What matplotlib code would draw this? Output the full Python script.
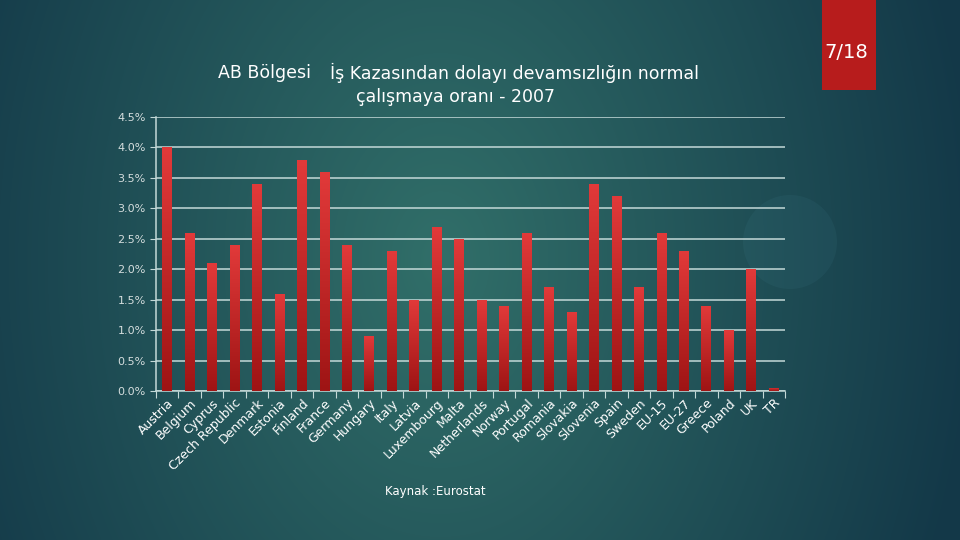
import matplotlib.pyplot as plt
import numpy as np
from matplotlib.patches import Rectangle, Circle
from matplotlib.colors import LinearSegmentedColormap

countries = ['Austria', 'Belgium', 'Cyprus', 'Czech Republic', 'Denmark', 'Estonia',
             'Finland', 'France', 'Germany', 'Hungary', 'Italy', 'Latvia',
             'Luxembourg', 'Malta', 'Netherlands', 'Norway', 'Portugal', 'Romania',
             'Slovakia', 'Slovenia', 'Spain', 'Sweden', 'EU-15', 'EU-27',
             'Greece', 'Poland', 'UK', 'TR']
rates = [4.0, 2.6, 2.1, 2.4, 3.4, 1.6, 3.8, 3.6, 2.4, 0.9, 2.3, 1.5,
         2.7, 2.5, 1.5, 1.4, 2.6, 1.7, 1.3, 3.4, 3.2, 1.7, 2.6, 2.3,
         1.4, 1.0, 2.0, 0.05]
yticks = [0.0, 0.5, 1.0, 1.5, 2.0, 2.5, 3.0, 3.5, 4.0, 4.5]

plt.rcParams['font.family'] = ['DejaVu Sans']

fig = plt.figure(figsize=(9.6, 5.4), dpi=100)

# background: soft teal gradient, darker towards the side edges
bg = fig.add_axes([0, 0, 1, 1])
yy, xx = np.mgrid[0:540, 0:960]
d = np.sqrt(((xx - 440) / 540.0) ** 2 + ((yy - 260) / 760.0) ** 2)
d = np.clip(d, 0, 1)
c_in = np.array([0x31, 0x6f, 0x69]) / 255.0
c_out = np.array([0x13, 0x38, 0x48]) / 255.0
img = c_in[None, None, :] * (1 - d[..., None]) + c_out[None, None, :] * d[..., None]
bg.imshow(img, extent=[0, 960, 540, 0], aspect='auto')
bg.set_xlim(0, 960)
bg.set_ylim(540, 0)
bg.axis('off')
bg.add_patch(Circle((790, 242), 47, color='#5aa0b0', alpha=0.08, lw=0))
bg.add_patch(Rectangle((822, 0), 54, 90, color='#b71c1c', lw=0))
bg.text(824, 52, '7/18', color='white', fontsize=14, ha='left', va='center')
bg.text(218, 73, 'AB Bölgesi', color='white', fontsize=12.5, ha='left', va='center')
bg.text(330, 73, 'İş Kazasından dolayı devamsızlığın normal', color='white',
        fontsize=12.5, ha='left', va='center')
bg.text(455, 97, 'çalışmaya oranı - 2007', color='white', fontsize=12.5,
        ha='center', va='center')
bg.text(435, 492, 'Kaynak :Eurostat', color='white', fontsize=8.5,
        ha='center', va='center')

ax = fig.add_axes([156 / 960, 1 - 391 / 540, (785 - 156) / 960, (391 - 117) / 540])
ax.patch.set_alpha(0)
x = np.arange(len(countries))
bars = ax.bar(x, rates, width=0.44, color='#c62828', zorder=3)

# vertical red gradient inside each bar
grad = np.linspace(0, 1, 256).reshape(-1, 1)
cmap = LinearSegmentedColormap.from_list('redg', ['#9e1414', '#e23a3a'])
for b in bars:
    x0, w, h = b.get_x(), b.get_width(), b.get_height()
    im = ax.imshow(grad, extent=[x0, x0 + w, 0, h], origin='lower', cmap=cmap,
                   aspect='auto', zorder=4)
    im.set_clip_path(b)

ax.set_xlim(-0.5, len(countries) - 0.5)
ax.set_ylim(0, 4.5)
ax.set_yticks(yticks)
ax.set_yticklabels(['%.1f%%' % v for v in yticks], color='#d5dede', fontsize=8)
ax.yaxis.grid(True, color='#c4d9d8', lw=1.1, zorder=1)
ax.set_axisbelow(True)
ax.tick_params(axis='y', length=4, color='#c4d9d8')

ax.set_xticks(np.arange(len(countries) + 1) - 0.5, minor=False)
ax.set_xticklabels([])
ax.tick_params(axis='x', length=5, color='#c4d9d8', direction='out')
ax.set_xticks(x, minor=True)
ax.set_xticklabels(countries, minor=True, rotation=45, ha='right',
                   rotation_mode='anchor', color='white', fontsize=9)
ax.tick_params(axis='x', which='minor', length=0, pad=4)

for s in ['top', 'right']:
    ax.spines[s].set_visible(False)
for s in ['left', 'bottom']:
    ax.spines[s].set_color('#c4d9d8')
    ax.spines[s].set_linewidth(1.1)

fig.savefig('out.png', dpi=100)
